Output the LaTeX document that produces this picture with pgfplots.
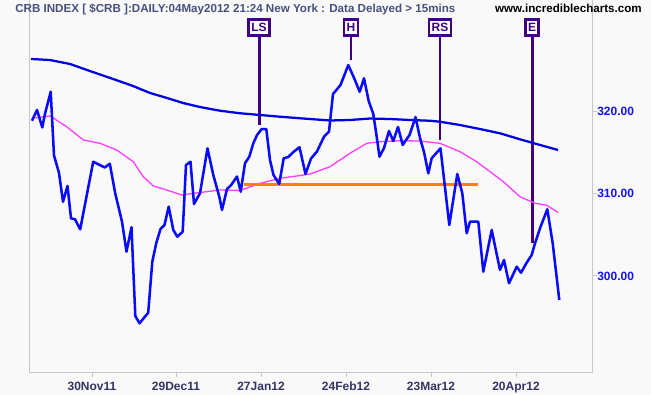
\documentclass[border=0pt]{standalone}
\usepackage{fontspec}
\setmainfont{Liberation Sans}
\usepackage{pgfplots}
\pgfplotsset{compat=1.18}
\usepackage{pgfplotstable}

\definecolor{bgc}{RGB}{249,249,249}
\definecolor{framec}{RGB}{200,200,200}
\definecolor{pricec}{RGB}{10,10,255}
\definecolor{maslowc}{RGB}{0,0,225}
\definecolor{mafastc}{RGB}{255,64,255}
\definecolor{neckc}{RGB}{255,128,0}
\definecolor{patc}{RGB}{64,0,128}
\definecolor{titlec}{RGB}{72,80,128}
\definecolor{xlabc}{RGB}{51,51,102}
\definecolor{ylabc}{RGB}{20,20,240}

% x = chart position (30Nov11 at 92, 4 weeks = 85), y = index value
\pgfplotstableread{
x y
32 318.90
37 320.21
42.3 318.08
44.7 319.60
50.7 322.43
54 314.67
59 312.54
63 309.04
67.5 310.96
71 307.02
75 306.90
80.2 305.68
93.2 313.91
97.8 313.63
104.8 313.21
109.8 313.67
115.2 310.07
122 306.61
126.5 302.96
131.5 305.93
135.3 295.13
139.5 294.24
148.2 295.53
152.3 301.74
156.3 304.02
160.5 305.72
164.5 306.21
168.7 308.44
173.3 305.60
177.3 304.78
182.7 305.39
186 313.51
190.5 313.91
194 308.76
200 310.07
207.5 315.54
213.3 312.29
219.3 309.65
222 308.03
227 310.59
231.2 311.08
237 312.11
240.7 310.26
245 313.72
249.3 314.52
253.3 316.15
257 317.16
261.7 317.89
266.3 317.89
270 314.12
273.5 312.29
279.2 311.20
283.7 314.33
288.3 314.49
293.3 315.09
299.5 315.67
305.5 312.42
311 314.30
317 315.16
324 316.96
329 317.57
333 322.15
340.5 323.25
348.3 325.68
354.5 323.98
359.7 322.43
364 324.07
368.7 321.30
373.3 319.72
376.7 316.96
379.5 314.52
384 315.58
389 317.65
393.3 316.43
398 318.14
402.7 315.95
409.5 317.16
415.5 319.35
420 316.80
424 315.09
428.3 312.50
431.7 314.33
440.5 315.54
449.3 306.21
457.3 312.42
462.3 310.07
466.7 305.20
470 306.61
478.3 306.61
483.3 300.52
491.7 305.60
500 300.73
504 301.95
509 299.11
516.7 301.13
521 300.40
526.7 301.62
531.7 302.56
535 303.98
540 305.81
547.3 308.12
552.7 303.98
559.3 297.08
}\pricetab

\pgfplotstableread{
x y
31 326.42
50 326.29
70 325.81
90 324.95
116 323.86
133 323.13
150 322.28
167 321.67
183 321.06
200 320.57
220 320.12
240 319.81
260 319.60
280 319.39
300 319.20
330 318.93
350 318.99
370 319.17
390 319.11
410 318.99
430 318.90
440 318.78
460 318.38
480 317.89
500 317.37
520 316.64
540 315.95
558 315.34
}\maslowtab

\pgfplotstableread{
x y
31.7 319.20
50 319.48
66.7 318.17
83.3 316.56
100 316.15
116.7 315.34
133.3 313.91
143.3 312.09
153.3 310.96
166.7 310.47
181.7 309.86
200 310.16
220 310.47
240 310.41
260 311.28
280 311.89
300 312.23
310 312.42
330 313.30
350 314.94
366.7 316.15
380 316.35
400 316.47
420 316.43
440 316.15
460 315.13
476.7 313.91
490 312.70
503.3 311.48
520 309.65
535 308.85
546.7 308.61
558.3 307.71
}\mafasttab

\begin{document}
\begin{tikzpicture}
\fill[bgc] (-22.5pt,-16.875pt) rectangle (465.75pt,279.375pt);
\useasboundingbox (-22.5pt,-16.875pt) rectangle (465.75pt,279.375pt);
\begin{axis}[
  scale only axis,
  width=421.5pt, height=279.375pt,
  xmin=30, xmax=592, ymin=288.25, ymax=333.60,
  axis line style={draw=none},
  xtick={92,176,261,346,431,516},
  xticklabels={30Nov11,29Dec11,27Jan12,24Feb12,23Mar12,20Apr12},
  ytick={300,310,320},
  yticklabels={300.00,310.00,320.00},
  tick align=outside,
  xtick pos=bottom,
  ytick pos=right,
  yticklabel pos=right,
  major tick length=3.75pt,
  tick style={draw=framec, line width=0.75pt},
  /pgf/number format/assume math mode=true,
  xticklabel style={font=\fontsize{9}{10}\selectfont\bfseries, text=xlabc, inner sep=0pt, yshift=-3pt},
  yticklabel style={font=\fontsize{9}{10}\selectfont\bfseries, text=ylabc, inner sep=0pt, anchor=west, xshift=0pt},
  clip=false,
]
% frame
\draw[framec, line width=0.75pt] (rel axis cs:0,1) -- (rel axis cs:0,0) -- (rel axis cs:1,0) -- (rel axis cs:1,1);
% pattern marker lines
\addplot[patc, line width=2.2pt, forget plot] coordinates {(259.5,330.2) (259.5,318.4)};
\addplot[patc, line width=2.2pt, forget plot] coordinates {(351,330.2) (351,326.3)};
\addplot[patc, line width=2.2pt, forget plot] coordinates {(440,330.2) (440,316.56)};
\addplot[patc, line width=2.2pt, forget plot] coordinates {(532.5,330.2) (532.5,303.98)};
% moving averages
\addplot[maslowc, line width=1.7pt, line join=round] table[x=x,y=y] {\maslowtab};
\addplot[mafastc, line width=1.0pt, line join=round] table[x=x,y=y] {\mafasttab};
% neckline
\addplot[neckc, line width=2.2pt] coordinates {(244,311.16) (478,311.16)};
% price
\addplot[pricec, line width=1.9pt, line join=round] table[x=x,y=y] {\pricetab};
% labels
\tikzset{pat/.style={draw=patc, line width=1.9pt, fill=white, text=patc,
  font=\fontsize{9}{10}\selectfont\bfseries, inner xsep=2pt, inner ysep=0pt, minimum height=12pt}}
\node[pat] at (axis cs:259,330.25) {LS};
\node[pat] at (axis cs:351,330.25) {H};
\node[pat] at (axis cs:440,330.25) {RS};
\node[pat] at (axis cs:532,330.25) {E};
\end{axis}
\node[anchor=west, inner sep=0pt, text=titlec, font=\fontsize{8.7}{10}\selectfont\bfseries] at (-11.25pt,272.6pt)
  {CRB INDEX [ \$CRB ]:DAILY:04May2012 21:24 New York : Data Delayed > 15mins};
\node[anchor=east, inner sep=0pt, text=black, font=\fontsize{8.7}{10}\selectfont\bfseries] at (459pt,273.4pt)
  {www.incrediblecharts.com};
\end{tikzpicture}
\end{document}
